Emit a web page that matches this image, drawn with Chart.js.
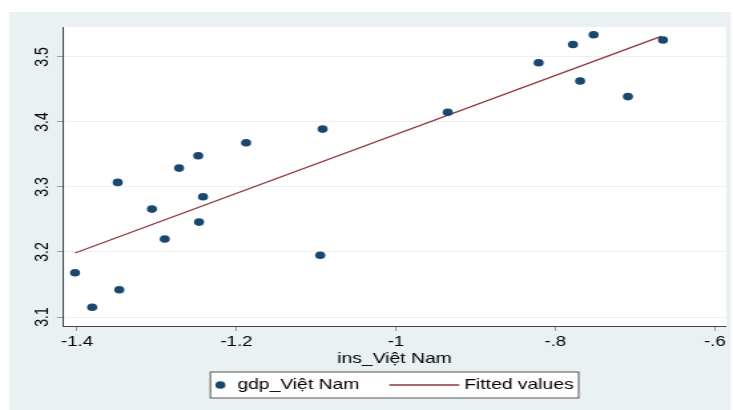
<!DOCTYPE html>
<html>
<head>
<meta charset="utf-8">
<title>gdp_Việt Nam theo ins_Việt Nam</title>
<script src="https://cdn.jsdelivr.net/npm/chart.js"></script>
<style>
  html, body { margin: 0; padding: 0; background: #fff; }
  /* the original graph is stretched sideways, so draw narrow and widen */
  #wrap { position: absolute; left: 0; top: 0; width: 551px; height: 410px; transform: scaleX(1.3303); transform-origin: 0 0; }
</style>
</head>
<body>
<div id="wrap"><canvas id="chart"></canvas></div>
<script>
const S = 733 / 551;

// ins_Việt Nam (x) and gdp_Việt Nam (y)
const insVN = [-1.4025, -1.381, -1.349, -1.347, -1.306, -1.290, -1.272, -1.248, -1.247, -1.242,
               -1.188, -1.092, -1.095, -0.935, -0.821, -0.778, -0.752, -0.769, -0.709, -0.665];
const gdpVN = [3.168, 3.115, 3.307, 3.142, 3.266, 3.220, 3.329, 3.348, 3.246, 3.285,
               3.368, 3.389, 3.195, 3.415, 3.491, 3.519, 3.534, 3.463, 3.439, 3.526];

// fitted values, ends of the line
const fitX = [-1.4025, -0.6665];
const fitY = [3.1985, 3.532];

const xTicks = [-1.4, -1.2, -1, -0.8, -0.6];
const xTickLabels = ['-1.4', '-1.2', '-1', '-.8', '-.6'];
const yTicks = [3.1, 3.2, 3.3, 3.4, 3.5];
const yTickLabels = ['3.1', '3.2', '3.3', '3.4', '3.5'];

const FONT = '"Liberation Sans", Arial, sans-serif';
Chart.defaults.font.family = FONT;
Chart.defaults.font.size = 14;
Chart.defaults.color = '#000';

const stataFrame = {
  id: 'stataFrame',
  beforeDraw(chart) {
    const { ctx, chartArea: a } = chart;
    ctx.save();
    ctx.fillStyle = '#eaf1f3';
    ctx.fillRect(9 / S, 12, 722 / S, 398);
    ctx.fillStyle = '#fff';
    ctx.fillRect(a.left, a.top, a.right - a.left, a.bottom - a.top);
    ctx.restore();
  },
  afterDraw(chart) {
    // legend in a box under the axis title
    const { ctx, chartArea: a } = chart;
    const ds = chart.data.datasets;
    ctx.save();
    ctx.font = '14.5px ' + FONT;
    const w1 = ctx.measureText(ds[0].label).width;
    const w2 = ctx.measureText(ds[1].label).width;
    const boxW = (27 + 30 + 70 + 5 + 5) / S + w1 + w2;
    const left = (a.left + a.right) / 2 - boxW / 2;
    const top = 372, h = 26, cy = top + h / 2;
    ctx.fillStyle = '#fff';
    ctx.fillRect(left, top, boxW, h);
    ctx.strokeStyle = '#555';
    ctx.lineWidth = 1;
    ctx.strokeRect(left, top, boxW, h);
    ctx.fillStyle = ds[0].backgroundColor;
    ctx.beginPath();
    ctx.arc(left + 10 / S, cy, ds[0].pointRadius, 0, Math.PI * 2);
    ctx.fill();
    ctx.fillStyle = '#000';
    ctx.textBaseline = 'middle';
    let x = left + 27 / S;
    ctx.fillText(ds[0].label, x, cy);
    x += w1 + 30 / S;
    ctx.strokeStyle = ds[1].borderColor;
    ctx.lineWidth = ds[1].borderWidth;
    ctx.beginPath();
    ctx.moveTo(x, cy);
    ctx.lineTo(x + 70 / S, cy);
    ctx.stroke();
    x += 75 / S;
    ctx.fillText(ds[1].label, x, cy);
    ctx.restore();
  }
};

new Chart(document.getElementById('chart'), {
  type: 'scatter',
  data: {
    datasets: [
      {
        label: 'gdp_Việt Nam',
        data: insVN.map((x, i) => ({ x: x, y: gdpVN[i] })),
        backgroundColor: '#1a476f',
        borderWidth: 0,
        pointRadius: 3.8
      },
      {
        type: 'line',
        label: 'Fitted values',
        data: fitX.map((x, i) => ({ x: x, y: fitY[i] })),
        borderColor: '#90353b',
        borderWidth: 1.3,
        pointRadius: 0,
        fill: false
      }
    ]
  },
  options: {
    responsive: true,
    maintainAspectRatio: false,
    animation: false,
    layout: { padding: { top: 27, right: 7 / S, bottom: 44, left: 0 } },
    plugins: {
      legend: { display: false },
      tooltip: { enabled: false }
    },
    scales: {
      x: {
        type: 'linear',
        min: -1.4176,
        max: -0.586,
        afterBuildTicks: s => { s.ticks = xTicks.map(v => ({ value: v })); },
        afterFit: s => { s.height = 40; },
        grid: { drawOnChartArea: false, tickLength: 5, tickColor: '#999' },
        border: { color: '#444' },
        ticks: {
          padding: 3,
          maxRotation: 0,
          autoSkip: false,
          callback: (v, i) => xTickLabels[i]
        },
        title: { display: true, text: 'ins_Việt Nam', font: { size: 14.5, lineHeight: 1 }, padding: 0 }
      },
      y: {
        min: 3.0862,
        max: 3.546,
        afterBuildTicks: s => { s.ticks = yTicks.map(v => ({ value: v })); },
        afterFit: s => { s.width = 63 / S; },
        grid: { color: '#eaf1f3', tickLength: 6 / S, tickColor: '#999' },
        border: { color: '#444' },
        ticks: {
          minRotation: 90,
          maxRotation: 90,
          crossAlign: 'center',
          padding: 1,
          autoSkip: false,
          callback: (v, i) => yTickLabels[i]
        }
      }
    }
  },
  plugins: [stataFrame]
});
</script>
</body>
</html>
